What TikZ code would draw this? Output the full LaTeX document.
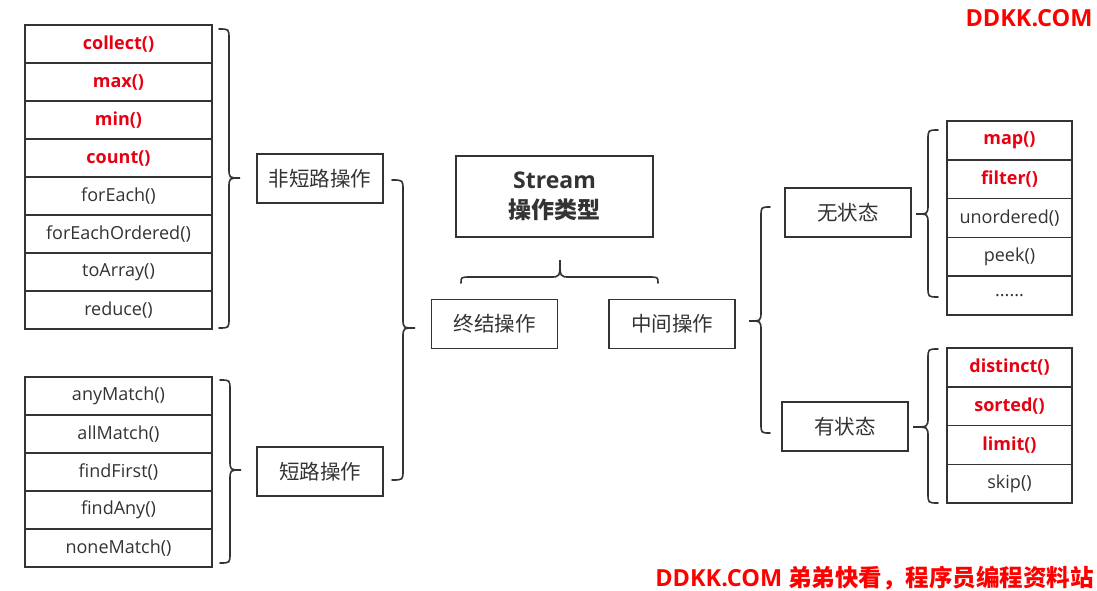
\documentclass[tikz,border=0pt]{standalone}
\usepackage{fontspec}
\setmainfont{Open Sans}
\newfontfamily\cjk{Noto Sans CJK SC}
\definecolor{ln}{HTML}{333333}
\definecolor{itemred}{HTML}{E60012}
\definecolor{wmred}{HTML}{FF0000}
\newcommand\bracev[6]{% x0 x1 x2 ytop ytip ybottom
  \draw[brc] (#1,#4) .. controls (#2,#4) .. (#2,#4+10) -- (#2,#5-10)
    .. controls (#2,#5) .. (#3,#5) .. controls (#2,#5) .. (#2,#5+10)
    -- (#2,#6-10) .. controls (#2,#6) .. (#1,#6);}
\newcommand\braceh[6]{% y0 y1 y2 xleft xtip xright
  \draw[brc] (#4,#1) .. controls (#4,#2) .. (#4+10,#2) -- (#5-10,#2)
    .. controls (#5,#2) .. (#5,#3) .. controls (#5,#2) .. (#5+10,#2)
    -- (#6-10,#2) .. controls (#6,#2) .. (#6,#1);}
\begin{document}
\begin{tikzpicture}[x=1pt,y=-1pt,
  brc/.style={draw=ln, line width=1.6pt, line cap=round},
  cell/.style={draw=ln, line width=1.6pt, minimum width=187pt, minimum height=38pt,
    inner sep=0pt, font=\fontsize{18}{20}\selectfont, text=ln},
  redcell/.style={cell, text=itemred, font=\fontsize{18}{20}\selectfont\bfseries},
  rcell/.style={cell, minimum width=125pt, minimum height=38.8pt},
  rredcell/.style={redcell, minimum width=125pt, minimum height=38.8pt},
  lbl/.style={draw=ln, line width=1.6pt, minimum width=126pt, minimum height=49pt,
    inner sep=0pt, font=\cjk\fontsize{20.5}{22}\selectfont, text=ln},
  wm/.style={text=wmred, inner sep=0pt, font=\fontsize{23.5}{26}\selectfont\bfseries}
]
\useasboundingbox (0,0) rectangle (1097,591);
\fill[white] (0,0) rectangle (1097,591);

% left group 1
\node[redcell] (c1) at (118.5,44) {collect()};
\node[redcell] (c2) at (118.5,82) {max()};
\node[redcell] (c3) at (118.5,120) {min()};
\node[redcell] (c4) at (118.5,158) {count()};
\node[cell] (c5) at (118.5,196) {forEach()};
\node[cell] (c6) at (118.5,234) {forEachOrdered()};
\node[cell] (c7) at (118.5,272) {toArray()};
\node[cell] (c8) at (118.5,310) {reduce()};

% left group 2
\node[cell] (s1) at (118.5,396) {anyMatch()};
\node[cell] (s2) at (118.5,434) {allMatch()};
\node[cell] (s3) at (118.5,472) {findFirst()};
\node[cell] (s4) at (118.5,510) {findAny()};
\node[cell] (s5) at (118.5,548) {noneMatch()};

% labels
\node[lbl] (nsc) at (320,178.5) {非短路操作};
\node[lbl] (sc) at (320,471.5) {短路操作};
\node[lbl] (term) at (494.5,324) {终结操作};
\node[lbl] (mid) at (672,324) {中间操作};
\node[lbl] (stl) at (848,212.5) {无状态};
\node[lbl] (stf) at (845,426.5) {有状态};

\node[draw=ln, line width=1.6pt, minimum width=197pt, minimum height=81pt, inner sep=0pt,
  align=center, text=ln, font=\fontsize{23}{30}\selectfont\bfseries] (stream) at (554.5,196.5)
  {Stream\\{\cjk\bfseries 操作类型}};

% right group 1
\node[rredcell] (m1) at (1009.5,140.4) {map()};
\node[rredcell] (m2) at (1009.5,179.2) {filter()};
\node[rcell] (m3) at (1009.5,218) {unordered()};
\node[rcell] (m4) at (1009.5,256.8) {peek()};
\node[rcell] (m5) at (1009.5,295.6) {......};

% right group 2
\node[rredcell] (d1) at (1009.5,367.4) {distinct()};
\node[rredcell] (d2) at (1009.5,406.2) {sorted()};
\node[rredcell] (d3) at (1009.5,445) {limit()};
\node[rcell] (d4) at (1009.5,483.8) {skip()};

% braces
\bracev{219}{229}{240}{29}{178}{328}
\bracev{220}{230}{241}{380}{470}{563}
\bracev{392}{403}{415}{180}{328}{480}
\bracev{770}{761}{749}{207}{321}{433}
\bracev{938}{928}{916}{130}{214}{297}
\bracev{938}{928}{913}{349}{427}{503}
\braceh{283}{277}{260}{461}{560}{658}

% watermarks
\node[wm] (wm1) at (1029,18) {DDKK.COM};
\node[wm, anchor=east] (wm2) at (1094,578) {DDKK.COM {\cjk\bfseries 弟弟快看，程序员编程资料站}};
\end{tikzpicture}
\end{document}
